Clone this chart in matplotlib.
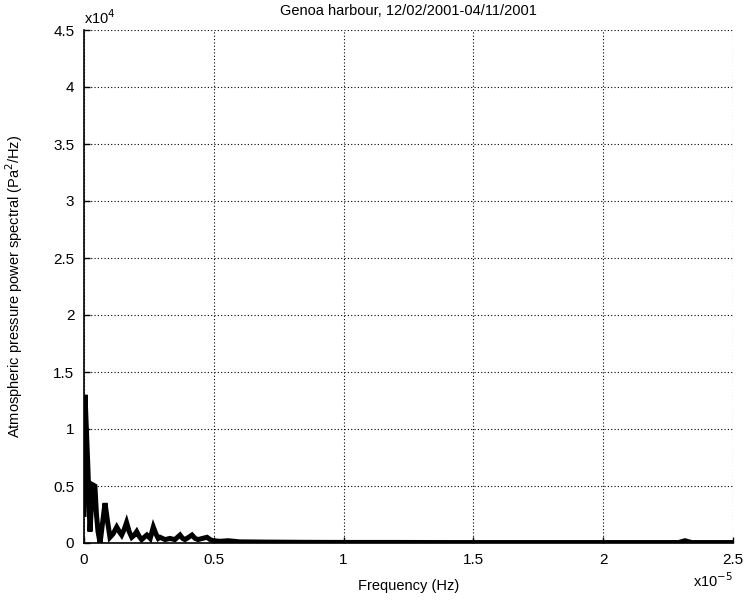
import numpy as np
import matplotlib
matplotlib.use('Agg')
from matplotlib import pyplot as plt
from matplotlib.ticker import FuncFormatter

plt.rcParams['font.family'] = ['Liberation Sans', 'DejaVu Sans']

#--------------------------datos (freq en 1e-5 Hz, espectro en 1e4 Pa^2/Hz)------------------
freq = [0.0, 0.004, 0.010, 0.015, 0.023, 0.028, 0.034, 0.042, 0.048, 0.054, 0.062,
        0.070, 0.081, 0.090, 0.100, 0.112, 0.126, 0.136, 0.145, 0.155, 0.164,
        0.174, 0.184, 0.194, 0.203, 0.212, 0.222, 0.232, 0.242, 0.255, 0.267,
        0.277, 0.286, 0.293, 0.312, 0.331, 0.350, 0.370, 0.380, 0.389, 0.403,
        0.416, 0.428, 0.439, 0.456, 0.474, 0.486, 0.497, 0.525, 0.555, 0.60,
        0.70, 0.85, 1.0, 1.2, 1.4, 1.6, 1.8, 2.0, 2.2, 2.29, 2.315, 2.34, 2.4, 2.5]
espectro = [0.25, 1.30, 0.95, 0.66, 0.10, 0.30, 0.51, 0.50, 0.25, 0.10, 0.00,
            0.15, 0.35, 0.20, 0.05, 0.08, 0.14, 0.10, 0.07, 0.12, 0.18,
            0.10, 0.05, 0.07, 0.10, 0.06, 0.03, 0.05, 0.07, 0.04, 0.14,
            0.08, 0.04, 0.05, 0.03, 0.04, 0.03, 0.07, 0.04, 0.03, 0.05,
            0.07, 0.04, 0.03, 0.04, 0.05, 0.03, 0.02, 0.015, 0.02, 0.01,
            0.008, 0.006, 0.005, 0.005, 0.004, 0.004, 0.004, 0.004, 0.004, 0.004, 0.02, 0.004, 0.004, 0.004]

xticks = [0, 0.5, 1, 1.5, 2, 2.5]
yticks = [0, 0.5, 1, 1.5, 2, 2.5, 3, 3.5, 4, 4.5]

f = np.array(freq) * 1e-5
p = np.array(espectro) * 1e4

fig = plt.figure(figsize=(7.46, 6.0), dpi=100)
ax = fig.add_axes([0.1126, 0.095, 0.87, 0.855])

ax.plot(f, p, color='k', linewidth=3.6, solid_joinstyle='miter')

ax.set_xlim(0, 2.5e-5)
ax.set_ylim(0, 4.5e4)
ax.set_xticks(np.array(xticks) * 1e-5)
ax.set_yticks(np.array(yticks) * 1e4)
ax.xaxis.set_major_formatter(FuncFormatter(lambda v, pos: '%g' % round(v / 1e-5, 2)))
ax.yaxis.set_major_formatter(FuncFormatter(lambda v, pos: '%g' % round(v / 1e4, 2)))

ax.grid(True, linestyle=(0, (1, 2)), color='k', linewidth=0.8)
ax.spines['top'].set_visible(False)
ax.spines['right'].set_visible(False)
ax.spines['left'].set_linewidth(1.2)
ax.spines['bottom'].set_linewidth(1.2)
ax.tick_params(direction='in', length=4, width=1, labelsize=11, pad=7)

ax.set_title('Genoa harbour, 12/02/2001-04/11/2001', fontsize=10.5, pad=11)
ax.set_xlabel('Frequency (Hz)', fontsize=10.5, labelpad=9)
ax.set_ylabel('Atmospheric pressure power spectral (Pa$^{2}$/Hz)', fontsize=10.5, labelpad=20)

ax.text(0.0, 1.005, 'x10$^{4}$', transform=ax.transAxes, fontsize=10.5, va='bottom', ha='left')
ax.text(1.0, -0.055, 'x10$^{-5}$', transform=ax.transAxes, fontsize=10.5, va='top', ha='right')

plt.savefig('out.png', dpi=100)
